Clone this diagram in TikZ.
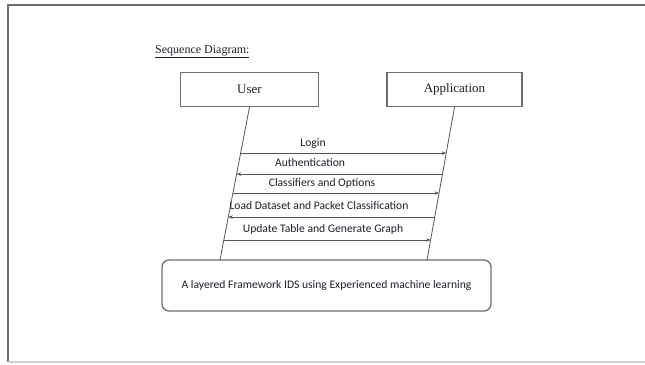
\documentclass[tikz,border=0pt]{standalone}
\usepackage{fontspec}
\setmainfont{Liberation Serif}
\newfontfamily\calib{Carlito}
\usetikzlibrary{arrows.meta,calc}
\definecolor{lineg}{HTML}{555555}
\definecolor{boxg}{HTML}{6E6E6E}
\definecolor{txt}{HTML}{1E1E2A}
\tikzset{
  actorbox/.style={draw=boxg, line width=1.3pt, fill=white, minimum width=138pt, minimum height=34pt, inner sep=0pt, font=\fontsize{13}{15}\selectfont, text=txt},
  lifeline/.style={draw=lineg, line width=0.8pt},
  msg/.style={draw=lineg, line width=0.9pt, -{Stealth[length=4.5pt,width=3.5pt]}},
  msglabel/.style={font=\calib\fontsize{11.6}{13}\selectfont, text=txt, inner sep=0pt},
  sysbox/.style={draw=boxg, line width=1.3pt, rounded corners=7pt, minimum width=329pt, minimum height=51pt, inner sep=0pt, font=\calib\fontsize{11.6}{13}\selectfont, text=txt}
}
\begin{document}
\begin{tikzpicture}[x=1pt,y=-1pt]
\useasboundingbox (0,0) rectangle (645,364);
% frame
\draw[draw=boxg, line width=1.5pt] (645,5) -- (8,5) -- (8,362);
\draw[draw=gray!35, line width=1.5pt] (8,362) -- (645,362);
% title
\node[anchor=west, inner sep=0pt, font=\fontsize{12}{14}\selectfont, text=txt] (title) at (155,52) {\underline{Sequence Diagram:}};
% actors
\node[actorbox] (user) at (249.5,89.5) {User};
\node[actorbox, minimum width=135pt] (app) at (454.5,89.5) {Application};
% system box
\node[sysbox] (sys) at (326.5,285.5) {A layered Framework IDS using Experienced machine learning};
% lifeline ends
\coordinate (ub) at (220,260);
\coordinate (ab) at (427,260);
\draw[lifeline] (user.south) -- (ub);
\draw[lifeline] (app.south) -- (ab);
% lifeline points
\coordinate (u1) at ($(user.south)!0.3007!(ub)$);
\coordinate (a1) at ($(app.south)!0.3007!(ab)$);
\coordinate (u2) at ($(user.south)!0.4379!(ub)$);
\coordinate (a2) at ($(app.south)!0.4379!(ab)$);
\coordinate (u3) at ($(user.south)!0.5621!(ub)$);
\coordinate (a3) at ($(app.south)!0.5621!(ab)$);
\coordinate (u4) at ($(user.south)!0.7190!(ub)$);
\coordinate (a4) at ($(app.south)!0.7190!(ab)$);
\coordinate (u5) at ($(user.south)!0.8693!(ub)$);
\coordinate (a5) at ($(app.south)!0.8693!(ab)$);
% messages
\draw[msg] (u1) -- (a1);
\draw[msg] (a2) -- (u2);
\draw[msg] (u3) -- (a3);
\draw[msg] (a4) -- (u4);
\draw[msg] (u5) -- (a5);
% labels
\node[msglabel] (l1) at (313,144) {Login};
\node[msglabel] (l2) at (310,163) {Authentication};
\node[msglabel] (l3) at (322,183) {Classifiers and Options};
\node[msglabel] (l4) at (319,206) {Load Dataset and Packet Classification};
\node[msglabel] (l5) at (323,229) {Update Table and Generate Graph};
\end{tikzpicture}
\end{document}
